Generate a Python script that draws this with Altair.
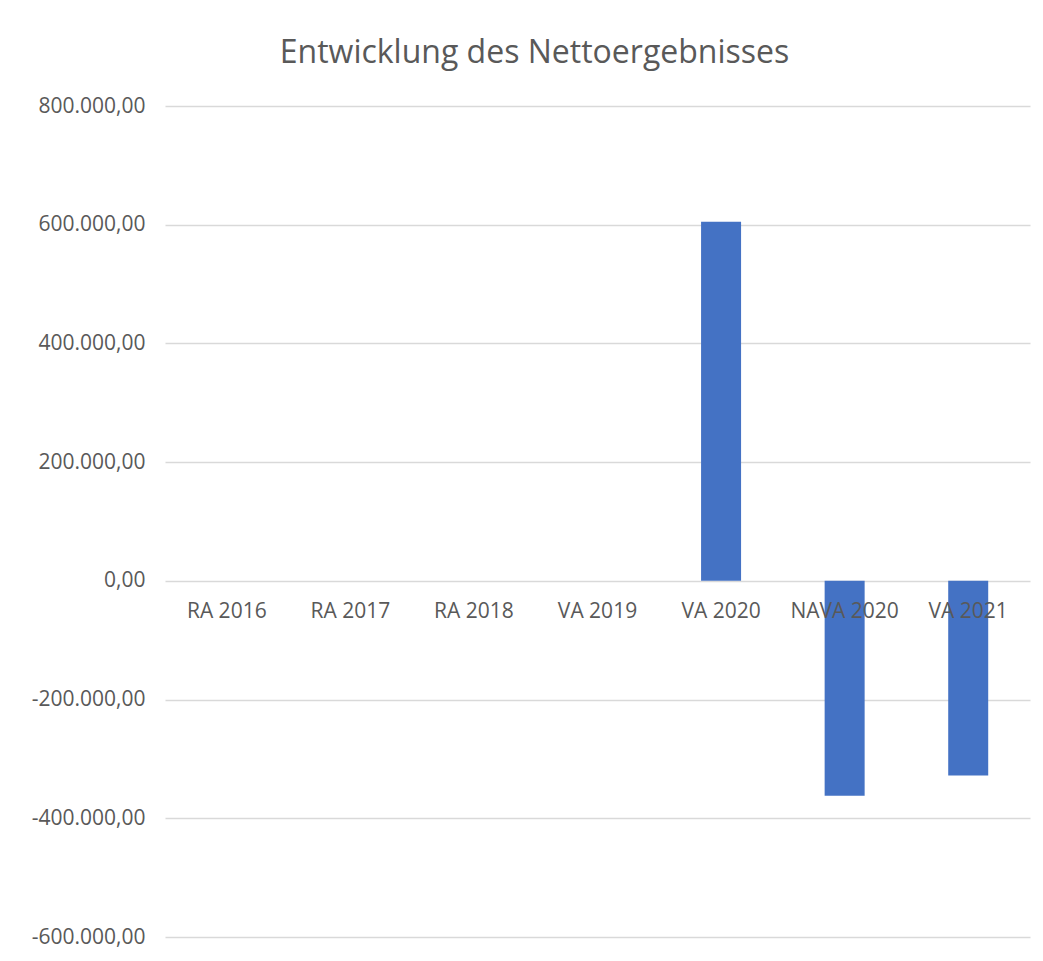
import altair as alt
import pandas as pd

categories = ["RA 2016", "RA 2017", "RA 2018", "VA 2019", "VA 2020", "NAVA 2020", "VA 2021"]
values = [0, 0, 0, 0, 605000, -362000, -328000]
y_ticks = [-600000, -400000, -200000, 0, 200000, 400000, 600000, 800000]

df = pd.DataFrame({"Kategorie": categories, "Wert": values})

FONT = "Open Sans"
GRAY = "#595959"

x_enc = alt.X("Kategorie:N", sort=categories, axis=None,
              scale=alt.Scale(paddingInner=0, paddingOuter=0))

bars = alt.Chart(df).mark_bar(size=40, color="#4472C4").encode(
    x=x_enc,
    y=alt.Y("Wert:Q",
            scale=alt.Scale(domain=[-600000, 800000], nice=False, zero=False),
            axis=alt.Axis(
                values=y_ticks,
                labelExpr="replace(replace(replace(replace(format(datum.value, ',.2f'), ',', '#'), '.', ','), '#', '.'), '\u2212', '-')",
                title=None, domain=False, ticks=False, labelPadding=20,
                labelFont=FONT, labelFontSize=21, labelColor=GRAY,
                gridColor="#d9d9d9", gridWidth=1.3,
            )),
)

labels = alt.Chart(df).mark_text(font=FONT, fontSize=21, color=GRAY, dy=31, baseline="middle").encode(
    x=x_enc,
    y=alt.datum(0),
    text="Kategorie:N",
)

chart = alt.layer(bars, labels).properties(
    width=865, height=831,
    title=alt.TitleParams("Entwicklung des Nettoergebnisses", font=FONT, fontSize=32,
                          fontWeight="normal", color=GRAY, dx=-63, offset=25),
    autosize=alt.AutoSizeParams(type="none"),
    padding={"left": 157, "top": 98, "right": 5, "bottom": 14},
).configure_view(stroke=None)

chart.save("out.html", embed_options={"renderer": "svg", "actions": False})
